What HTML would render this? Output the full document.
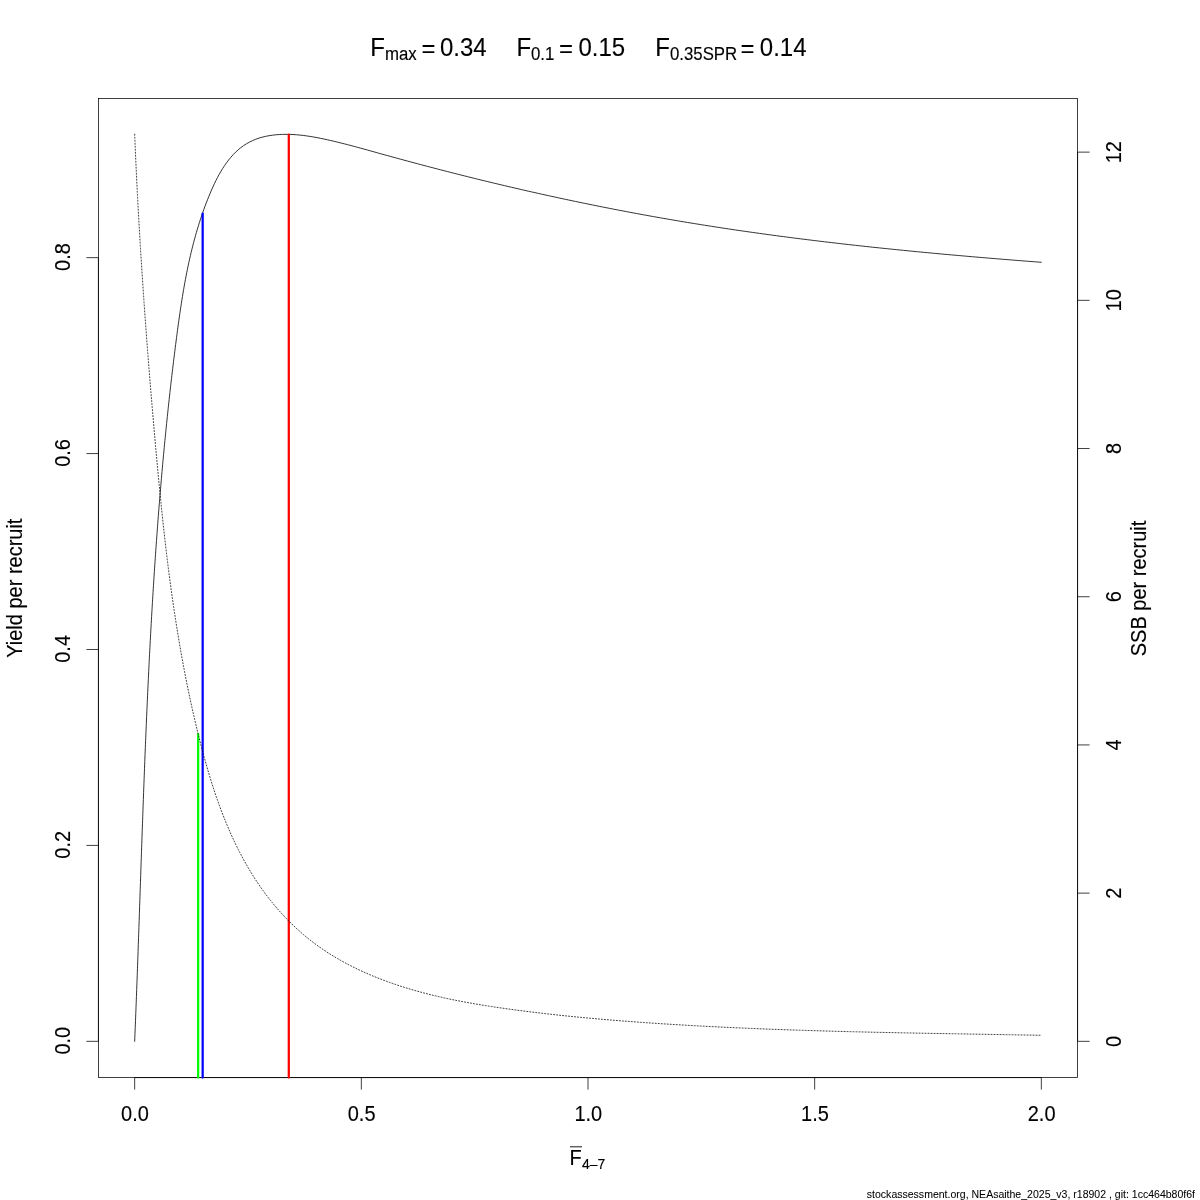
<!DOCTYPE html>
<html lang="en"><head><meta charset="utf-8"><title>Yield per recruit</title>
<style>html,body{margin:0;padding:0;background:#fff}svg{display:block}text{font-family:"Liberation Sans",Arial,Helvetica,sans-serif;fill:#000}</style></head><body>
<svg width="1200" height="1200" viewBox="0 0 1200 1200">
<rect x="0" y="0" width="1200" height="1200" fill="#ffffff"/>
<path d="M134.67,1041.33 L134.81,1037.88 L134.95,1034.42 L135.09,1030.97 L135.23,1027.52 L135.37,1024.06 L135.51,1020.61 L135.64,1017.16 L135.78,1013.70 L135.91,1010.25 L136.04,1006.80 L136.18,1003.34 L136.31,999.89 L136.44,996.44 L136.57,992.98 L136.70,989.53 L136.82,986.07 L136.95,982.62 L137.08,979.16 L137.20,975.71 L137.33,972.25 L137.45,968.80 L137.58,965.35 L137.70,961.89 L137.82,958.44 L137.95,954.98 L138.07,951.53 L138.19,948.07 L138.31,944.62 L138.43,941.16 L138.55,937.70 L138.67,934.25 L138.79,930.79 L138.91,927.34 L139.03,923.88 L139.15,920.43 L139.27,916.97 L139.39,913.52 L139.51,910.06 L139.62,906.61 L139.74,903.15 L139.86,899.69 L139.98,896.24 L140.09,892.78 L140.21,889.33 L140.33,885.87 L140.45,882.41 L140.57,878.96 L140.68,875.50 L140.80,872.05 L140.92,868.59 L141.04,865.14 L141.16,861.68 L141.27,858.22 L141.39,854.77 L141.51,851.31 L141.63,847.86 L141.75,844.40 L141.87,840.94 L141.99,837.49 L142.11,834.03 L142.23,830.58 L142.36,827.12 L142.48,823.66 L142.60,820.21 L142.72,816.75 L142.85,813.30 L142.97,809.84 L143.10,806.39 L143.22,802.93 L143.35,799.47 L143.47,796.02 L143.60,792.56 L143.73,789.11 L143.86,785.65 L143.99,782.20 L144.12,778.74 L144.25,775.29 L144.38,771.83 L144.51,768.37 L144.65,764.92 L144.78,761.46 L144.92,758.01 L145.06,754.55 L145.19,751.10 L145.33,747.64 L145.47,744.19 L145.61,740.73 L145.75,737.28 L145.90,733.82 L146.04,730.37 L146.19,726.91 L146.33,723.46 L146.48,720.01 L146.63,716.55 L146.78,713.10 L146.93,709.64 L147.09,706.19 L147.24,702.73 L147.40,699.28 L147.55,695.83 L147.71,692.37 L147.87,688.92 L148.03,685.47 L148.20,682.01 L148.36,678.56 L148.53,675.11 L148.69,671.65 L148.86,668.20 L149.04,664.75 L149.21,661.29 L149.38,657.84 L149.56,654.39 L149.74,650.94 L149.92,647.48 L150.10,644.03 L150.28,640.58 L150.47,637.13 L150.65,633.68 L150.84,630.22 L151.03,626.77 L151.22,623.32 L151.42,619.87 L151.62,616.42 L151.81,612.97 L152.02,609.52 L152.22,606.07 L152.42,602.62 L152.63,599.17 L152.84,595.72 L153.05,592.27 L153.26,588.82 L153.48,585.37 L153.70,581.92 L153.92,578.47 L154.14,575.02 L154.37,571.57 L154.59,568.12 L154.82,564.67 L155.06,561.22 L155.29,557.77 L155.53,554.33 L155.77,550.88 L156.01,547.43 L156.25,543.98 L156.50,540.53 L156.75,537.09 L157.00,533.64 L157.26,530.19 L157.52,526.75 L157.78,523.30 L158.04,519.85 L158.31,516.41 L158.57,512.96 L158.85,509.52 L159.12,506.07 L159.40,502.62 L159.68,499.18 L159.96,495.73 L160.25,492.29 L160.54,488.85 L160.83,485.40 L161.12,481.96 L161.42,478.51 L161.72,475.07 L162.02,471.63 L162.33,468.18 L162.64,464.74 L162.95,461.30 L163.27,457.86 L163.59,454.41 L163.91,450.97 L164.24,447.53 L164.57,444.09 L164.90,440.65 L165.24,437.21 L165.58,433.77 L165.92,430.33 L166.27,426.89 L166.62,423.45 L166.97,420.01 L167.33,416.57 L167.69,413.13 L168.05,409.69 L168.42,406.25 L168.79,402.81 L169.16,399.37 L169.54,395.94 L169.92,392.50 L170.31,389.06 L170.70,385.62 L171.09,382.19 L171.49,378.75 L171.89,375.32 L172.29,371.88 L172.70,368.44 L173.11,365.01 L173.53,361.57 L173.95,358.14 L174.37,354.71 L174.80,351.27 L175.23,347.84 L175.67,344.41 L176.11,340.97 L176.55,337.54 L177.00,334.11 L177.45,330.68 L177.91,327.24 L178.38,323.82 L178.86,320.39 L179.34,316.96 L179.83,313.54 L180.33,310.11 L180.85,306.69 L181.37,303.27 L181.91,299.86 L182.46,296.45 L183.02,293.04 L183.60,289.63 L184.19,286.23 L184.80,282.83 L185.43,279.43 L186.08,276.04 L186.74,272.66 L187.42,269.27 L188.12,265.90 L188.84,262.52 L189.59,259.16 L190.35,255.80 L191.14,252.44 L191.96,249.09 L192.79,245.75 L193.66,242.41 L194.55,239.08 L195.46,235.75 L196.40,232.44 L197.38,229.13 L198.38,225.83 L199.41,222.53 L200.47,219.24 L201.56,215.97 L202.69,212.70 L203.84,209.43 L205.03,206.18 L206.26,202.94 L207.52,199.70 L208.82,196.48 L210.15,193.26 L211.52,190.06 L212.94,186.87 L214.41,183.70 L215.93,180.56 L217.51,177.46 L219.17,174.40 L220.89,171.39 L222.70,168.43 L224.60,165.53 L226.59,162.70 L228.67,159.94 L230.86,157.26 L233.17,154.67 L235.58,152.20 L238.12,149.85 L240.78,147.66 L243.55,145.64 L246.45,143.79 L249.44,142.11 L252.52,140.60 L255.69,139.27 L258.93,138.13 L262.23,137.16 L265.57,136.36 L268.95,135.71 L272.35,135.20 L275.76,134.81 L279.18,134.55 L282.61,134.39 L286.04,134.34 L289.49,134.38 L292.93,134.53 L296.38,134.76 L299.83,135.07 L303.28,135.45 L306.73,135.91 L310.18,136.43 L313.62,137.00 L317.06,137.63 L320.49,138.30 L323.91,139.01 L327.32,139.76 L330.72,140.53 L334.11,141.32 L337.48,142.13 L340.85,142.96 L344.20,143.81 L347.55,144.67 L350.89,145.54 L354.22,146.43 L357.55,147.33 L360.87,148.23 L364.19,149.14 L367.51,150.06 L370.82,150.98 L374.13,151.90 L377.45,152.83 L380.76,153.75 L384.08,154.67 L387.40,155.58 L390.72,156.50 L394.05,157.41 L397.37,158.32 L400.70,159.22 L404.03,160.13 L407.36,161.03 L410.70,161.92 L414.03,162.82 L417.37,163.71 L420.71,164.60 L424.05,165.48 L427.39,166.36 L430.74,167.24 L434.08,168.12 L437.43,168.99 L440.78,169.86 L444.13,170.72 L447.48,171.58 L450.83,172.44 L454.18,173.30 L457.54,174.15 L460.89,174.99 L464.25,175.84 L467.61,176.68 L470.96,177.51 L474.32,178.35 L477.68,179.18 L481.05,180.00 L484.41,180.82 L487.77,181.64 L491.13,182.45 L494.50,183.26 L497.86,184.06 L501.23,184.87 L504.60,185.66 L507.97,186.46 L511.33,187.24 L514.70,188.03 L518.07,188.81 L521.45,189.59 L524.82,190.36 L528.19,191.13 L531.56,191.89 L534.94,192.65 L538.31,193.41 L541.69,194.16 L545.07,194.91 L548.44,195.65 L551.82,196.39 L555.20,197.13 L558.58,197.86 L561.96,198.59 L565.34,199.31 L568.72,200.03 L572.11,200.74 L575.49,201.45 L578.88,202.16 L582.26,202.86 L585.65,203.56 L589.03,204.25 L592.42,204.94 L595.81,205.63 L599.20,206.31 L602.59,206.99 L605.98,207.66 L609.37,208.33 L612.77,208.99 L616.16,209.65 L619.55,210.30 L622.95,210.95 L626.34,211.60 L629.74,212.24 L633.14,212.88 L636.54,213.51 L639.93,214.14 L643.33,214.76 L646.73,215.38 L650.13,216.00 L653.54,216.61 L656.94,217.22 L660.34,217.82 L663.75,218.42 L667.15,219.01 L670.56,219.60 L673.96,220.18 L677.37,220.76 L680.78,221.33 L684.19,221.91 L687.60,222.47 L691.01,223.03 L694.42,223.59 L697.83,224.14 L701.24,224.69 L704.65,225.23 L708.07,225.77 L711.48,226.31 L714.90,226.84 L718.31,227.37 L721.73,227.89 L725.15,228.41 L728.56,228.92 L731.98,229.43 L735.40,229.94 L738.82,230.44 L742.24,230.94 L745.66,231.43 L749.09,231.92 L752.51,232.41 L755.93,232.89 L759.35,233.37 L762.78,233.84 L766.20,234.32 L769.63,234.78 L773.05,235.25 L776.48,235.71 L779.91,236.16 L783.33,236.61 L786.76,237.06 L790.19,237.51 L793.62,237.95 L797.05,238.39 L800.48,238.82 L803.91,239.25 L807.34,239.68 L810.77,240.10 L814.20,240.52 L817.63,240.94 L821.07,241.36 L824.50,241.77 L827.93,242.17 L831.37,242.58 L834.80,242.98 L838.24,243.38 L841.67,243.77 L845.11,244.16 L848.54,244.55 L851.98,244.94 L855.42,245.32 L858.85,245.70 L862.29,246.07 L865.73,246.45 L869.17,246.82 L872.60,247.19 L876.04,247.55 L879.48,247.91 L882.92,248.27 L886.36,248.63 L889.80,248.98 L893.24,249.33 L896.68,249.68 L900.12,250.03 L903.56,250.37 L907.00,250.71 L910.45,251.05 L913.89,251.38 L917.33,251.72 L920.77,252.05 L924.21,252.38 L927.66,252.70 L931.10,253.03 L934.54,253.35 L937.99,253.67 L941.43,253.98 L944.87,254.30 L948.32,254.61 L951.76,254.92 L955.20,255.22 L958.65,255.53 L962.09,255.83 L965.54,256.13 L968.98,256.43 L972.43,256.73 L975.87,257.03 L979.32,257.32 L982.76,257.61 L986.21,257.90 L989.65,258.19 L993.10,258.47 L996.54,258.76 L999.99,259.04 L1003.43,259.32 L1006.88,259.60 L1010.32,259.88 L1013.77,260.15 L1017.21,260.43 L1020.66,260.70 L1024.10,260.97 L1027.55,261.24 L1030.99,261.51 L1034.44,261.77 L1037.88,262.04 L1041.33,262.30" fill="none" stroke="#000" stroke-width="0.8" stroke-linecap="round" stroke-linejoin="round"/>
<rect x="98.4" y="98.4" width="979.2" height="979.2" fill="none" stroke="#000" stroke-width="0.75"/>
<line x1="134.67" y1="1077.6" x2="1041.34" y2="1077.6" stroke="#000" stroke-width="0.75"/>
<line x1="98.4" y1="1041.33" x2="98.4" y2="257.65" stroke="#000" stroke-width="0.75"/>
<line x1="1077.6" y1="1041.33" x2="1077.6" y2="152.13" stroke="#000" stroke-width="0.75"/>
<line x1="288.80" y1="1077.6" x2="288.80" y2="134.67" stroke="#ff0000" stroke-width="2.25" stroke-linecap="round"/>
<line x1="202.67" y1="1077.6" x2="202.67" y2="213.6" stroke="#0000ff" stroke-width="2.25" stroke-linecap="round"/>
<line x1="198.14" y1="1077.6" x2="198.14" y2="734.1" stroke="#00ff00" stroke-width="2.25" stroke-linecap="round"/>
<path d="M134.67,134.20 L134.80,137.37 L134.93,140.55 L135.06,143.72 L135.19,146.89 L135.33,150.07 L135.47,153.24 L135.61,156.42 L135.75,159.59 L135.89,162.77 L136.04,165.94 L136.19,169.12 L136.34,172.29 L136.49,175.47 L136.64,178.65 L136.80,181.83 L136.96,185.00 L137.12,188.18 L137.28,191.36 L137.44,194.54 L137.61,197.71 L137.77,200.89 L137.94,204.07 L138.11,207.25 L138.29,210.43 L138.46,213.61 L138.64,216.79 L138.82,219.97 L139.00,223.15 L139.18,226.33 L139.36,229.51 L139.55,232.69 L139.74,235.87 L139.93,239.05 L140.12,242.23 L140.31,245.41 L140.50,248.59 L140.70,251.77 L140.90,254.95 L141.10,258.13 L141.30,261.32 L141.50,264.50 L141.71,267.68 L141.91,270.86 L142.12,274.04 L142.33,277.22 L142.54,280.40 L142.75,283.58 L142.97,286.76 L143.18,289.95 L143.40,293.13 L143.62,296.31 L143.84,299.49 L144.06,302.67 L144.29,305.85 L144.51,309.03 L144.74,312.21 L144.97,315.39 L145.20,318.57 L145.43,321.75 L145.66,324.93 L145.90,328.11 L146.14,331.29 L146.37,334.47 L146.61,337.65 L146.85,340.83 L147.09,344.01 L147.34,347.19 L147.58,350.37 L147.83,353.55 L148.08,356.73 L148.33,359.90 L148.58,363.08 L148.83,366.26 L149.08,369.44 L149.33,372.61 L149.59,375.79 L149.85,378.97 L150.11,382.14 L150.37,385.32 L150.63,388.50 L150.89,391.67 L151.15,394.85 L151.42,398.02 L151.68,401.20 L151.95,404.37 L152.22,407.54 L152.49,410.72 L152.76,413.89 L153.03,417.06 L153.31,420.24 L153.58,423.41 L153.86,426.58 L154.13,429.75 L154.41,432.92 L154.69,436.09 L154.97,439.26 L155.25,442.43 L155.53,445.60 L155.82,448.77 L156.10,451.94 L156.39,455.10 L156.68,458.27 L156.97,461.44 L157.26,464.60 L157.55,467.77 L157.85,470.93 L158.15,474.10 L158.45,477.26 L158.75,480.43 L159.05,483.59 L159.36,486.75 L159.67,489.92 L159.98,493.08 L160.29,496.24 L160.61,499.40 L160.93,502.56 L161.25,505.72 L161.57,508.88 L161.90,512.04 L162.23,515.20 L162.57,518.36 L162.90,521.52 L163.25,524.67 L163.59,527.83 L163.94,530.99 L164.29,534.14 L164.65,537.30 L165.00,540.45 L165.37,543.61 L165.74,546.76 L166.11,549.91 L166.48,553.07 L166.86,556.22 L167.25,559.37 L167.63,562.52 L168.03,565.67 L168.42,568.82 L168.83,571.97 L169.23,575.12 L169.65,578.27 L170.06,581.42 L170.49,584.57 L170.91,587.71 L171.34,590.86 L171.78,594.01 L172.23,597.15 L172.67,600.30 L173.13,603.44 L173.59,606.59 L174.05,609.73 L174.53,612.87 L175.00,616.01 L175.49,619.16 L175.98,622.30 L176.47,625.44 L176.97,628.58 L177.48,631.72 L178.00,634.86 L178.52,638.00 L179.05,641.13 L179.58,644.27 L180.12,647.41 L180.67,650.55 L181.23,653.68 L181.79,656.82 L182.36,659.95 L182.94,663.09 L183.52,666.22 L184.11,669.35 L184.71,672.49 L185.32,675.62 L185.93,678.75 L186.56,681.88 L187.19,685.01 L187.82,688.14 L188.47,691.27 L189.12,694.40 L189.79,697.53 L190.46,700.65 L191.14,703.78 L191.83,706.91 L192.52,710.03 L193.23,713.16 L193.94,716.28 L194.66,719.41 L195.39,722.53 L196.14,725.65 L196.88,728.78 L197.64,731.90 L198.41,735.02 L199.19,738.14 L199.98,741.26 L200.77,744.38 L201.58,747.49 L202.40,750.61 L203.24,753.72 L204.08,756.82 L204.93,759.93 L205.80,763.03 L206.68,766.13 L207.58,769.22 L208.49,772.30 L209.41,775.39 L210.35,778.46 L211.31,781.53 L212.27,784.60 L213.26,787.65 L214.26,790.70 L215.28,793.75 L216.31,796.78 L217.37,799.81 L218.44,802.83 L219.53,805.84 L220.64,808.84 L221.76,811.83 L222.91,814.81 L224.08,817.78 L225.27,820.74 L226.47,823.69 L227.70,826.63 L228.95,829.55 L230.23,832.47 L231.52,835.37 L232.84,838.25 L234.18,841.13 L235.55,843.99 L236.93,846.84 L238.35,849.67 L239.79,852.49 L241.25,855.29 L242.74,858.08 L244.25,860.85 L245.79,863.61 L247.36,866.34 L248.96,869.07 L250.58,871.77 L252.23,874.46 L253.91,877.13 L255.62,879.78 L257.35,882.41 L259.12,885.02 L260.92,887.62 L262.74,890.19 L264.60,892.74 L266.49,895.28 L268.41,897.79 L270.36,900.28 L272.35,902.75 L274.37,905.19 L276.42,907.62 L278.50,910.02 L280.62,912.40 L282.77,914.75 L284.96,917.08 L287.18,919.39 L289.43,921.66 L291.71,923.91 L294.03,926.13 L296.37,928.32 L298.75,930.48 L301.15,932.61 L303.58,934.70 L306.04,936.76 L308.53,938.79 L311.05,940.77 L313.59,942.72 L316.16,944.64 L318.75,946.51 L321.37,948.35 L324.01,950.15 L326.67,951.91 L329.36,953.64 L332.07,955.33 L334.80,956.99 L337.55,958.61 L340.31,960.20 L343.10,961.75 L345.91,963.27 L348.73,964.76 L351.57,966.22 L354.42,967.65 L357.29,969.04 L360.17,970.40 L363.07,971.73 L365.98,973.04 L368.90,974.31 L371.84,975.55 L374.78,976.77 L377.73,977.96 L380.70,979.12 L383.67,980.25 L386.65,981.36 L389.64,982.44 L392.63,983.49 L395.64,984.52 L398.65,985.53 L401.67,986.51 L404.70,987.47 L407.73,988.40 L410.77,989.31 L413.82,990.20 L416.88,991.07 L419.94,991.91 L423.00,992.74 L426.08,993.54 L429.15,994.33 L432.24,995.09 L435.33,995.84 L438.42,996.57 L441.52,997.28 L444.62,997.97 L447.73,998.64 L450.85,999.30 L453.96,999.94 L457.09,1000.57 L460.21,1001.18 L463.34,1001.78 L466.47,1002.36 L469.61,1002.93 L472.75,1003.49 L475.89,1004.03 L479.03,1004.56 L482.18,1005.08 L485.33,1005.59 L488.48,1006.09 L491.63,1006.57 L494.78,1007.05 L497.94,1007.52 L501.10,1007.97 L504.26,1008.42 L507.41,1008.87 L510.58,1009.30 L513.74,1009.73 L516.90,1010.15 L520.06,1010.56 L523.22,1010.97 L526.38,1011.37 L529.54,1011.77 L532.71,1012.16 L535.87,1012.54 L539.03,1012.92 L542.20,1013.29 L545.36,1013.65 L548.53,1014.01 L551.69,1014.36 L554.86,1014.71 L558.02,1015.06 L561.19,1015.39 L564.36,1015.72 L567.52,1016.05 L570.69,1016.37 L573.86,1016.69 L577.03,1017.00 L580.19,1017.30 L583.36,1017.61 L586.53,1017.90 L589.70,1018.19 L592.87,1018.48 L596.04,1018.76 L599.21,1019.04 L602.38,1019.32 L605.55,1019.59 L608.72,1019.85 L611.89,1020.11 L615.06,1020.37 L618.24,1020.62 L621.41,1020.87 L624.58,1021.12 L627.75,1021.36 L630.92,1021.60 L634.10,1021.83 L637.27,1022.06 L640.45,1022.29 L643.62,1022.51 L646.79,1022.74 L649.97,1022.95 L653.14,1023.17 L656.32,1023.38 L659.49,1023.59 L662.67,1023.79 L665.84,1024.00 L669.02,1024.20 L672.20,1024.39 L675.37,1024.59 L678.55,1024.78 L681.73,1024.97 L684.90,1025.15 L688.08,1025.34 L691.26,1025.52 L694.44,1025.69 L697.61,1025.87 L700.79,1026.04 L703.97,1026.21 L707.15,1026.38 L710.33,1026.54 L713.51,1026.70 L716.68,1026.86 L719.86,1027.02 L723.04,1027.17 L726.22,1027.32 L729.40,1027.47 L732.58,1027.62 L735.76,1027.76 L738.94,1027.91 L742.12,1028.05 L745.30,1028.18 L748.49,1028.32 L751.67,1028.45 L754.85,1028.59 L758.03,1028.71 L761.21,1028.84 L764.39,1028.97 L767.57,1029.09 L770.75,1029.21 L773.94,1029.33 L777.12,1029.45 L780.30,1029.56 L783.48,1029.67 L786.67,1029.79 L789.85,1029.90 L793.03,1030.00 L796.21,1030.11 L799.40,1030.21 L802.58,1030.32 L805.76,1030.42 L808.95,1030.52 L812.13,1030.61 L815.31,1030.71 L818.49,1030.80 L821.68,1030.90 L824.86,1030.99 L828.05,1031.08 L831.23,1031.17 L834.41,1031.25 L837.60,1031.34 L840.78,1031.42 L843.96,1031.51 L847.15,1031.59 L850.33,1031.67 L853.52,1031.75 L856.70,1031.82 L859.88,1031.90 L863.07,1031.98 L866.25,1032.05 L869.44,1032.13 L872.62,1032.20 L875.80,1032.27 L878.99,1032.34 L882.17,1032.41 L885.36,1032.48 L888.54,1032.54 L891.73,1032.61 L894.91,1032.68 L898.09,1032.74 L901.28,1032.81 L904.46,1032.87 L907.65,1032.93 L910.83,1032.99 L914.02,1033.06 L917.20,1033.12 L920.38,1033.18 L923.57,1033.24 L926.75,1033.30 L929.94,1033.35 L933.12,1033.41 L936.30,1033.47 L939.49,1033.53 L942.67,1033.58 L945.86,1033.64 L949.04,1033.69 L952.22,1033.75 L955.41,1033.81 L958.59,1033.86 L961.77,1033.92 L964.96,1033.97 L968.14,1034.02 L971.32,1034.08 L974.51,1034.13 L977.69,1034.19 L980.87,1034.24 L984.06,1034.30 L987.24,1034.35 L990.42,1034.40 L993.60,1034.46 L996.79,1034.51 L999.97,1034.57 L1003.15,1034.62 L1006.33,1034.68 L1009.52,1034.73 L1012.70,1034.79 L1015.88,1034.84 L1019.06,1034.90 L1022.24,1034.95 L1025.42,1035.01 L1028.61,1035.07 L1031.79,1035.12 L1034.97,1035.18 L1038.15,1035.24 L1041.33,1035.30" fill="none" stroke="#000" stroke-width="0.75" stroke-dasharray="1.05 1.95" stroke-linecap="round"/>
<line x1="134.67" y1="1077.6" x2="134.67" y2="1089.6" stroke="#000" stroke-width="0.75"/>
<text transform="translate(134.97,1120.9) scale(1,1.06)" font-size="20" text-anchor="middle" stroke="#000" stroke-width="0.12">0.0</text>
<line x1="361.34" y1="1077.6" x2="361.34" y2="1089.6" stroke="#000" stroke-width="0.75"/>
<text transform="translate(361.64,1120.9) scale(1,1.06)" font-size="20" text-anchor="middle" stroke="#000" stroke-width="0.12">0.5</text>
<line x1="588.00" y1="1077.6" x2="588.00" y2="1089.6" stroke="#000" stroke-width="0.75"/>
<text transform="translate(588.30,1120.9) scale(1,1.06)" font-size="20" text-anchor="middle" stroke="#000" stroke-width="0.12">1.0</text>
<line x1="814.67" y1="1077.6" x2="814.67" y2="1089.6" stroke="#000" stroke-width="0.75"/>
<text transform="translate(814.97,1120.9) scale(1,1.06)" font-size="20" text-anchor="middle" stroke="#000" stroke-width="0.12">1.5</text>
<line x1="1041.34" y1="1077.6" x2="1041.34" y2="1089.6" stroke="#000" stroke-width="0.75"/>
<text transform="translate(1041.64,1120.9) scale(1,1.06)" font-size="20" text-anchor="middle" stroke="#000" stroke-width="0.12">2.0</text>
<line x1="98.4" y1="1041.33" x2="86.4" y2="1041.33" stroke="#000" stroke-width="0.75"/>
<text transform="translate(69.9,1040.73) rotate(-90) scale(1,1.06)" font-size="20" text-anchor="middle" stroke="#000" stroke-width="0.12">0.0</text>
<line x1="98.4" y1="845.41" x2="86.4" y2="845.41" stroke="#000" stroke-width="0.75"/>
<text transform="translate(69.9,844.81) rotate(-90) scale(1,1.06)" font-size="20" text-anchor="middle" stroke="#000" stroke-width="0.12">0.2</text>
<line x1="98.4" y1="649.49" x2="86.4" y2="649.49" stroke="#000" stroke-width="0.75"/>
<text transform="translate(69.9,648.89) rotate(-90) scale(1,1.06)" font-size="20" text-anchor="middle" stroke="#000" stroke-width="0.12">0.4</text>
<line x1="98.4" y1="453.57" x2="86.4" y2="453.57" stroke="#000" stroke-width="0.75"/>
<text transform="translate(69.9,452.97) rotate(-90) scale(1,1.06)" font-size="20" text-anchor="middle" stroke="#000" stroke-width="0.12">0.6</text>
<line x1="98.4" y1="257.65" x2="86.4" y2="257.65" stroke="#000" stroke-width="0.75"/>
<text transform="translate(69.9,257.05) rotate(-90) scale(1,1.06)" font-size="20" text-anchor="middle" stroke="#000" stroke-width="0.12">0.8</text>
<line x1="1077.6" y1="1041.33" x2="1089.6" y2="1041.33" stroke="#000" stroke-width="0.75"/>
<text transform="translate(1121.2,1041.33) rotate(-90) scale(1,1.06)" font-size="20" text-anchor="middle" stroke="#000" stroke-width="0.12">0</text>
<line x1="1077.6" y1="893.13" x2="1089.6" y2="893.13" stroke="#000" stroke-width="0.75"/>
<text transform="translate(1121.2,893.13) rotate(-90) scale(1,1.06)" font-size="20" text-anchor="middle" stroke="#000" stroke-width="0.12">2</text>
<line x1="1077.6" y1="744.93" x2="1089.6" y2="744.93" stroke="#000" stroke-width="0.75"/>
<text transform="translate(1121.2,744.93) rotate(-90) scale(1,1.06)" font-size="20" text-anchor="middle" stroke="#000" stroke-width="0.12">4</text>
<line x1="1077.6" y1="596.73" x2="1089.6" y2="596.73" stroke="#000" stroke-width="0.75"/>
<text transform="translate(1121.2,596.73) rotate(-90) scale(1,1.06)" font-size="20" text-anchor="middle" stroke="#000" stroke-width="0.12">6</text>
<line x1="1077.6" y1="448.53" x2="1089.6" y2="448.53" stroke="#000" stroke-width="0.75"/>
<text transform="translate(1121.2,448.53) rotate(-90) scale(1,1.06)" font-size="20" text-anchor="middle" stroke="#000" stroke-width="0.12">8</text>
<line x1="1077.6" y1="300.33" x2="1089.6" y2="300.33" stroke="#000" stroke-width="0.75"/>
<text transform="translate(1121.2,300.33) rotate(-90) scale(1,1.06)" font-size="20" text-anchor="middle" stroke="#000" stroke-width="0.12">10</text>
<line x1="1077.6" y1="152.13" x2="1089.6" y2="152.13" stroke="#000" stroke-width="0.75"/>
<text transform="translate(1121.2,152.13) rotate(-90) scale(1,1.06)" font-size="20" text-anchor="middle" stroke="#000" stroke-width="0.12">12</text>
<text transform="translate(22.0,588.2) rotate(-90) scale(1,1.06)" font-size="20" text-anchor="middle" stroke="#000" stroke-width="0.12">Yield per recruit</text>
<text transform="translate(1146.0,588.5) rotate(-90) scale(1,1.06)" font-size="20" text-anchor="middle" stroke="#000" stroke-width="0.12">SSB per recruit</text>
<text transform="translate(569.6,1164.8) scale(1,1.06)" font-size="20" text-anchor="start" stroke="#000" stroke-width="0.12">F</text>
<line x1="570" y1="1146.8" x2="582" y2="1146.8" stroke="#000" stroke-width="0.9"/>
<text transform="translate(582,1168.8) scale(1,1.06)" font-size="14" text-anchor="start" stroke="#000" stroke-width="0.12">4–7</text>
<text transform="translate(370.2,56.2) scale(1,1.06)" font-size="24" text-anchor="start" stroke="#000" stroke-width="0.12">F</text>
<text transform="translate(384.9,59.7) scale(1,1.06)" font-size="16.8" text-anchor="start" stroke="#000" stroke-width="0.12">max</text>
<text transform="translate(421.4,57.0) scale(1,1.06)" font-size="24" text-anchor="start" stroke="#000" stroke-width="0">=</text>
<text transform="translate(439.9,56.2) scale(1,1.06)" font-size="24" text-anchor="start" stroke="#000" stroke-width="0.12">0.34</text>
<text transform="translate(516.4,56.2) scale(1,1.06)" font-size="24" text-anchor="start" stroke="#000" stroke-width="0.12">F</text>
<text transform="translate(531.0,59.7) scale(1,1.06)" font-size="16.8" text-anchor="start" stroke="#000" stroke-width="0.12">0.1</text>
<text transform="translate(559.0,57.0) scale(1,1.06)" font-size="24" text-anchor="start" stroke="#000" stroke-width="0">=</text>
<text transform="translate(578.4,56.2) scale(1,1.06)" font-size="24" text-anchor="start" stroke="#000" stroke-width="0.12">0.15</text>
<text transform="translate(655.3,56.2) scale(1,1.06)" font-size="24" text-anchor="start" stroke="#000" stroke-width="0.12">F</text>
<text transform="translate(670.0,59.7) scale(1,1.06)" font-size="16.8" text-anchor="start" stroke="#000" stroke-width="0.12">0.35SPR</text>
<text transform="translate(740.6,57.0) scale(1,1.06)" font-size="24" text-anchor="start" stroke="#000" stroke-width="0">=</text>
<text transform="translate(759.8,56.2) scale(1,1.06)" font-size="24" text-anchor="start" stroke="#000" stroke-width="0.12">0.14</text>
<text transform="translate(1195.0,1198.3) scale(1,1.06)" font-size="10.53" text-anchor="end" stroke="#000" stroke-width="0.05">stockassessment.org, NEAsaithe_2025_v3, r18902 , git: 1cc464b80f6f</text>
</svg></body></html>
